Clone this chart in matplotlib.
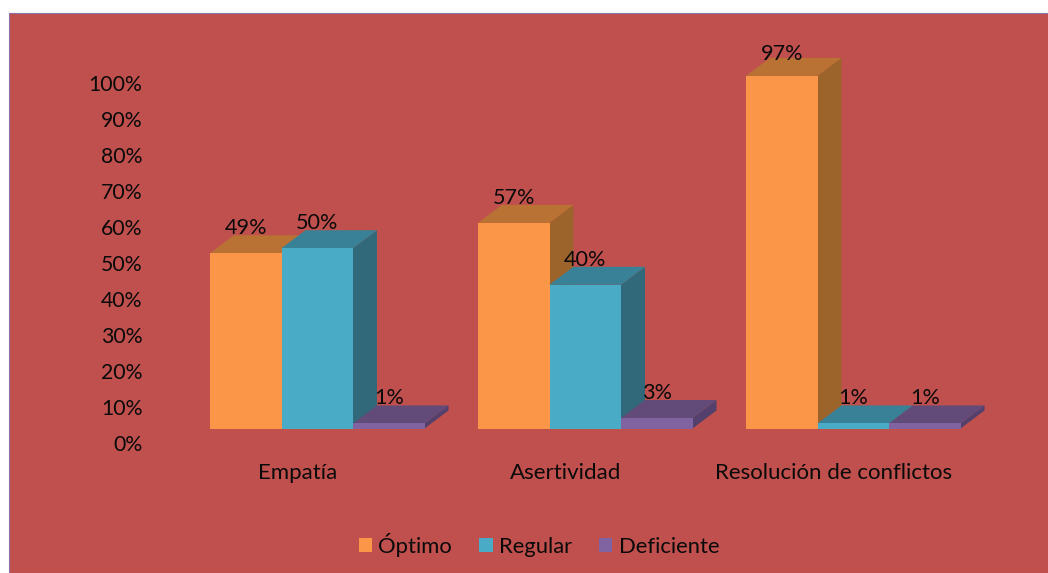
import numpy as np
import matplotlib
matplotlib.use("Agg")
from matplotlib import pyplot as plt
from matplotlib.patches import Patch, Polygon, Rectangle

plt.rcParams['font.family'] = ['Lato', 'DejaVu Sans']

categories = ["Empatía", "Asertividad", "Resolución de conflictos"]
series = ["Óptimo", "Regular", "Deficiente"]
# bar heights, labels as printed
optimo = [48.4, 56.8, 97.4]
regular = [49.8, 39.7, 1.4]
deficiente = [1.4, 2.9, 1.4]
optimo_labels = ["49%", "57%", "97%"]
regular_labels = ["50%", "40%", "1%"]
deficiente_labels = ["1%", "3%", "1%"]
yticks = np.arange(0, 101, 10)

front = ["#FB9648", "#4AABC6", "#8064A2"]
top = ["#BA7234", "#388196", "#624B78"]
side = ["#9C632B", "#31697A", "#53406C"]
bg = "#C0504D"
FS = 15.6

W, H = 1048, 573
PX_X = 268.0   # px per category
PX_Y = 3.62    # px per percent

fig = plt.figure(figsize=(W / 100, H / 100), dpi=100, facecolor="white")
fig.add_artist(Rectangle((9 / W, 0), (W - 9) / W + 0.01, (H - 13) / H, transform=fig.transFigure,
                         facecolor=bg, edgecolor="#8A6FA8", linewidth=0.8, zorder=-1))


def px_axes(left, right, ytop, ybottom):
    a = fig.add_axes([left / W, 1 - ybottom / H, (right - left) / W, (ybottom - ytop) / H])
    a.patch.set_visible(False)
    for s in a.spines.values():
        s.set_visible(False)
    return a


# tick labels sit lower than the bar floor, so they get their own axes
ax_y = px_axes(150, 160, 83, 443)
ax_y.set_ylim(0, 100)
ax_y.set_xticks([])
ax_y.set_yticks(yticks)
ax_y.set_yticklabels([f"{v}%" for v in yticks], fontsize=15.3, color="#0a0a0a")
ax_y.tick_params(axis="y", length=0, pad=5.5)

ax = px_axes(170, 1010, 40, 428.5)
ax.set_xlim((170 - 317.25) / PX_X, (1010 - 317.25) / PX_X)
ax.set_ylim(0, 388.5 / PX_Y)
ax.set_yticks([])
ax.set_xticks(np.arange(3) - 19.25 / PX_X)
ax.set_xticklabels(categories, fontsize=16, color="#0a0a0a")
ax.tick_params(axis="x", length=0, pad=25)

w = 71.5 / PX_X
dx = 24 / PX_X
dy = 18 / PX_Y

values = [optimo, regular, deficiente]
labels = [optimo_labels, regular_labels, deficiente_labels]
for i in range(3):
    for j in range(3):
        x0 = i + (j - 1.5) * w
        x1 = x0 + w
        v = values[j][i]
        z = 3 + i * 3 + j
        ax.add_patch(Polygon([(x1, 0), (x1 + dx, dy), (x1 + dx, v + dy), (x1, v)],
                             facecolor=side[j], edgecolor="none", zorder=z))
        ax.add_patch(Polygon([(x0, v), (x0 + dx, v + dy), (x1 + dx, v + dy), (x1, v)],
                             facecolor=top[j], edgecolor="none", zorder=z))
        ax.bar(x0, v, w, align="edge", color=front[j], linewidth=0, zorder=z + 0.5)
        # the tallest label is pushed down by the top of the chart area
        off = 15.5 if v > 90 else 18
        ax.annotate(labels[j][i], (x0 + w / 2, v), xytext=(0, off), textcoords="offset points",
                    ha="center", va="center", fontsize=FS, color="#0a0a0a", zorder=50)

handles = [Patch(facecolor=c, edgecolor="none", label=s) for c, s in zip(front, series)]
fig.legend(handles=handles, loc="center", bbox_to_anchor=(539 / W, 1 - 545 / H), ncol=3, frameon=False,
           fontsize=15.8, handlelength=0.6, handleheight=0.6, handletextpad=0.28, columnspacing=1.25,
           labelcolor="#0a0a0a")

fig.savefig("out.png", dpi=100, facecolor="white")
